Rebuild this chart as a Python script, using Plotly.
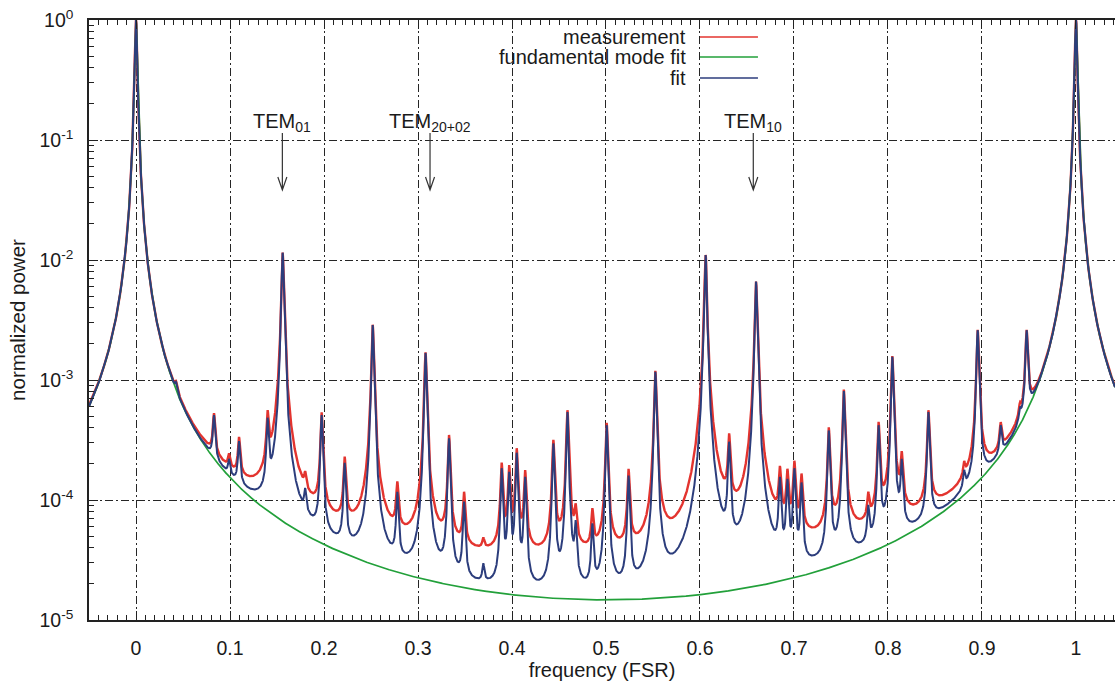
import numpy as np
import plotly.graph_objects as go

# ---------------------------------------------------------------------------
# Cavity transmission scan, frequency in units of the free spectral range
# ---------------------------------------------------------------------------
FINESSE_COEF = 68000.0       # coefficient of finesse F of the Airy function
PEDESTAL_COEF = 2500.0       # broad pedestal seen under the measured peaks
PEDESTAL_FRACTION = 0.04     # share of each measured peak in that pedestal
MEAS_OFFSET = 1.5e-5         # background level of the measurement

# higher-order transverse modes: frequency (FSR) and peak power of the fit
mode_freq = [0.0426, 0.083, 0.099, 0.1096, 0.140, 0.156, 0.180, 0.1975,
             0.222, 0.2518, 0.278, 0.308, 0.333, 0.349, 0.3695, 0.389,
             0.397, 0.405, 0.414, 0.444, 0.459, 0.4677, 0.4855, 0.5007,
             0.524, 0.5525, 0.606, 0.631, 0.6596, 0.685, 0.693, 0.7004,
             0.708, 0.737, 0.753, 0.779, 0.790, 0.8046, 0.8146, 0.843,
             0.881, 0.8954, 0.9199, 0.9404, 0.9475]
mode_peak = [9.6e-4, 5.1e-4, 2.2e-4, 3.1e-4, 4.85e-4, 1.15e-2, 1.26e-4, 5.1e-4,
             2.04e-4, 2.87e-3, 1.17e-4, 1.68e-3, 3.27e-4, 9.7e-5, 2.97e-5, 1.84e-4,
             1.72e-4, 2.48e-4, 1.56e-4, 2.96e-4, 5.4e-4, 6.8e-5, 6.4e-5, 4.2e-4,
             1.6e-4, 1.17e-3, 1.1e-2, 3.06e-4, 6.6e-3, 1.56e-4, 1.5e-4, 1.84e-4,
             1.4e-4, 3.8e-4, 8.1e-4, 9.1e-5, 4.2e-4, 1.56e-3, 2.2e-4, 5.4e-4,
             1.78e-4, 2.6e-3, 4.2e-4, 6.0e-4, 2.6e-3]

# labelled transverse modes
tem_labels = ["TEM<sub>01</sub>", "TEM<sub>20+02</sub>", "TEM<sub>10</sub>"]
tem_freq = [0.1557, 0.3128, 0.6567]

# axes
x_range = [-0.05, 1.0415]
x_ticks = [0, 0.1, 0.2, 0.3, 0.4, 0.5, 0.6, 0.7, 0.8, 0.9, 1]
x_ticktext = ["0", "0.1", "0.2", "0.3", "0.4", "0.5", "0.6", "0.7", "0.8", "0.9", "1"]
y_exponents = [-5, -4, -3, -2, -1, 0]
y_ticktext = ["10<sup>-5</sup>", "10<sup>-4</sup>", "10<sup>-3</sup>",
              "10<sup>-2</sup>", "10<sup>-1</sup>", "10<sup>0</sup>"]

series_names = ["measurement", "fundamental mode fit", "fit"]
series_colors = ["#e3342f", "#22a03a", "#2c3d7c"]


def airy(x, x0, coef):
    return 1.0 / (1.0 + coef * np.sin(np.pi * (x - x0)) ** 2)


def lorentz(x, x0, coef):
    return 1.0 / (1.0 + coef * (np.pi * (x - x0)) ** 2)


freq = np.asarray(mode_freq)
peak = np.asarray(mode_peak)

# mode amplitudes such that the fitted curve passes through the peak values
M = lorentz(freq[:, None], freq[None, :], FINESSE_COEF)
amp = np.linalg.solve(M, peak - airy(freq, 0.0, FINESSE_COEF))
amp = np.clip(amp, 1e-7, None)

x = np.union1d(np.linspace(x_range[0], x_range[1], 10901),
               np.concatenate([freq, [0.0, 1.0]]))

fundamental = airy(x, 0.0, FINESSE_COEF)
modes_fit = sum(a * lorentz(x, f, FINESSE_COEF) for a, f in zip(amp, freq))
modes_meas = sum(a * ((1 - PEDESTAL_FRACTION) * lorentz(x, f, FINESSE_COEF)
                      + PEDESTAL_FRACTION * lorentz(x, f, PEDESTAL_COEF))
                 for a, f in zip(amp, freq))

fit = fundamental + modes_fit
measurement = fundamental + modes_meas + MEAS_OFFSET

fig = go.Figure()
for name, y, color, width in [(series_names[0], measurement, series_colors[0], 2.4),
                              (series_names[1], fundamental, series_colors[1], 1.7),
                              (series_names[2], fit, series_colors[2], 2.0)]:
    fig.add_trace(go.Scatter(x=x, y=y, mode="lines", name=name,
                             line=dict(color=color, width=width)))

AXIS_COLOR = "#222222"
GRID_COLOR = "#262626"
GRID_DASH = "8px,3px,2px,3px"

fig.update_xaxes(
    range=x_range, tickmode="array", tickvals=x_ticks, ticktext=x_ticktext,
    ticks="inside", ticklen=9, tickwidth=1.2, tickcolor=AXIS_COLOR,
    showline=True, linecolor=AXIS_COLOR, linewidth=1.5, mirror="allticks",
    showgrid=True, gridcolor=GRID_COLOR, gridwidth=1.4, griddash=GRID_DASH,
    zeroline=False, ticklabelstandoff=10, tickfont=dict(size=19.5),
    minor=dict(ticks="inside", ticklen=5, tickwidth=1, tickcolor=AXIS_COLOR,
               dtick=0.01, tick0=0, showgrid=False),
    title=dict(text="frequency (FSR)", standoff=1, font=dict(size=20)),
)

minor_y = [k * 10.0 ** e for e in y_exponents[:-1] for k in range(2, 10)]
fig.update_yaxes(
    type="log", range=[-5, 0], tickmode="array",
    tickvals=[10.0 ** e for e in y_exponents], ticktext=y_ticktext,
    ticks="inside", ticklen=9, tickwidth=1.2, tickcolor=AXIS_COLOR,
    showline=True, linecolor=AXIS_COLOR, linewidth=1.5, mirror=False,
    showgrid=True, gridcolor=GRID_COLOR, gridwidth=1.4, griddash=GRID_DASH,
    zeroline=False, ticklabelstandoff=10, tickfont=dict(size=19.5),
    minor=dict(ticks="inside", ticklen=5, tickwidth=1, tickcolor=AXIS_COLOR,
               tickmode="array", tickvals=minor_y, showgrid=False),
    title=dict(text="normalized power", standoff=8, font=dict(size=20.5)),
)

# opaque key box over the grid
fig.add_shape(type="rect", xref="paper", yref="paper", x0=0.381, x1=0.664,
              y0=0.887, y1=1.0, fillcolor="white", line=dict(width=0),
              layer="between")

# key: text right-aligned, sample line to its right
key_y = [0.9717, 0.9383, 0.9033]
for name, color, ky in zip(series_names, series_colors, key_y):
    fig.add_annotation(xref="paper", yref="paper", x=0.5838, y=ky, text=name,
                       showarrow=False, xanchor="right", yanchor="middle")
    fig.add_shape(type="line", xref="paper", yref="paper", x0=0.5955, x1=0.652,
                  y0=ky, y1=ky, line=dict(color=color, width=1.6))

# mode labels with open-headed arrows
ARROW_TOP, ARROW_TIP = 0.8117, 0.7167     # paper y of arrow tail and tip
HEAD_DX, HEAD_DY = 0.0048, 0.0217         # half width (x units), length (paper)
for label, f in zip(tem_labels, tem_freq):
    fig.add_annotation(x=f, xref="x", yref="paper", y=0.83, text=label,
                       showarrow=False, xanchor="center", yanchor="middle")
    path = (f"M {f},{ARROW_TOP} L {f},{ARROW_TIP} "
            f"M {f - HEAD_DX},{ARROW_TIP + HEAD_DY} L {f},{ARROW_TIP} "
            f"L {f + HEAD_DX},{ARROW_TIP + HEAD_DY}")
    fig.add_shape(type="path", xref="x", yref="paper", path=path,
                  line=dict(color="#333333", width=1.2))

fig.update_layout(
    width=1115, height=688,
    margin=dict(l=89, r=0, t=20, b=68, autoexpand=False),
    paper_bgcolor="white", plot_bgcolor="white",
    font=dict(family="Liberation Sans, Arial, sans-serif", size=20, color="#1a1a1a"),
    showlegend=False,
)

fig.write_html("out.html")
